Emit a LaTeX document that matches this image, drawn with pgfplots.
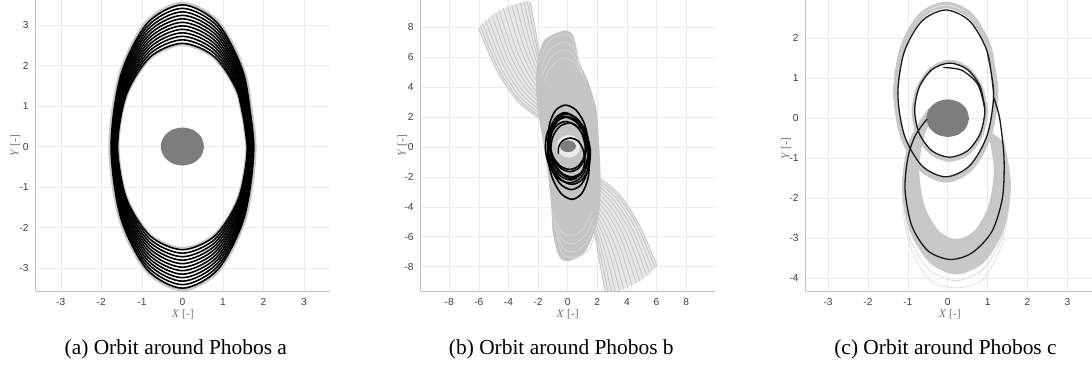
\documentclass[border=0pt]{standalone}
\usepackage{fontspec}
\setmainfont{Liberation Serif}
\newfontfamily\sansfam{Liberation Sans}
\usepackage{pgfplots}
\pgfplotsset{compat=1.18}
\definecolor{phob}{RGB}{125,125,125}
\definecolor{grayorb}{RGB}{200,200,200}
\definecolor{fanc}{RGB}{198,198,198}
\definecolor{fanfill}{RGB}{232,232,232}
\definecolor{blobc}{RGB}{196,196,196}
\definecolor{capc}{RGB}{214,214,214}
\newcommand\tickfont{\sansfam\fontsize{5.1}{6}\selectfont}
\newcommand\labfont{\fontsize{5.8}{7}\selectfont}
\newcommand\capfont{\fontsize{10.7}{13}\selectfont}
\pgfplotsset{myax/.style={
  scale only axis, height=145.5pt,
  axis x line*=bottom, axis y line*=left,
  axis line style={draw=black!25, line width=0.4pt},
  grid=major, grid style={draw=black!8, line width=0.3pt},
  major tick length=0pt,
  tick label style={font=\tickfont, text=black!75},
  xticklabel style={yshift=-0.2pt},
  xlabel={\textit{X} [-]}, ylabel={\textit{Y} [-]},
  label style={font=\labfont, text=black!55},
},
orb/.style={black, line width=0.8pt, smooth, no markers},
gorb/.style={grayorb, line width=1.2pt, smooth, no markers},
fan/.style={fanc, line width=0.45pt, smooth, no markers},
cap/.style={capc, line width=0.4pt, smooth, no markers},
}
\begin{document}
\begin{tikzpicture}
\useasboundingbox (0,0) rectangle (546pt,187pt);
\clip (0,0) rectangle (546pt,187pt);
%%%%%%%%%%%%%%%%%%%% (a)
\begin{axis}[myax, at={(17.85pt,41.5pt)}, anchor=south west, width=147.15pt,
  xmin=-3.62, xmax=3.64, ymin=-3.57, ymax=3.62,
  xtick={-3,-2,-1,0,1,2,3}, xticklabels={-3,-2,-1,0,1,2,3},
  ytick={-3,-2,-1,0,1,2,3}, yticklabels={-3,-2,-1,0,1,2,3},
  xlabel style={at={(axis description cs:0.5,-0.0814)}, anchor=center},
  ylabel style={at={(axis description cs:-0.0703,0.5)}, anchor=center}]
\addplot[gorb, line width=2pt] coordinates {(1.78,0)(1.541,1.765)(0.89,3.057)(0,3.53)(-0.89,3.057)(-1.541,1.765)(-1.78,0)(-1.541,-1.765)(-0.89,-3.057)(0,-3.53)(0.89,-3.057)(1.541,-1.765)(1.78,0)(1.541,1.765)};
\addplot[gorb, line width=1.5pt] coordinates {(1.59,0)(1.377,1.26)(0.795,2.182)(0,2.52)(-0.795,2.182)(-1.377,1.26)(-1.59,0)(-1.377,-1.26)(-0.795,-2.182)(0,-2.52)(0.795,-2.182)(1.377,-1.26)(1.59,0)(1.377,1.26)};
\addplot[orb] coordinates {(1.6,0)(1.386,1.275)(0.8,2.208)(0,2.55)(-0.8,2.208)(-1.386,1.275)(-1.6,0)(-1.386,-1.275)(-0.8,-2.208)(0,-2.55)(0.8,-2.208)(1.386,-1.275)(1.6,0)(1.386,1.275)};
\addplot[orb] coordinates {(1.615,0)(1.399,1.318)(0.808,2.283)(0,2.636)(-0.808,2.283)(-1.399,1.318)(-1.615,0)(-1.399,-1.318)(-0.808,-2.283)(0,-2.636)(0.808,-2.283)(1.399,-1.318)(1.615,0)(1.399,1.318)};
\addplot[orb] coordinates {(1.629,0)(1.411,1.362)(0.815,2.358)(0,2.723)(-0.815,2.358)(-1.411,1.362)(-1.629,0)(-1.411,-1.362)(-0.815,-2.358)(0,-2.723)(0.815,-2.358)(1.411,-1.362)(1.629,0)(1.411,1.362)};
\addplot[orb] coordinates {(1.644,0)(1.424,1.405)(0.822,2.433)(0,2.809)(-0.822,2.433)(-1.424,1.405)(-1.644,0)(-1.424,-1.405)(-0.822,-2.433)(0,-2.809)(0.822,-2.433)(1.424,-1.405)(1.644,0)(1.424,1.405)};
\addplot[orb] coordinates {(1.658,0)(1.436,1.448)(0.829,2.507)(0,2.895)(-0.829,2.507)(-1.436,1.448)(-1.658,0)(-1.436,-1.448)(-0.829,-2.507)(0,-2.895)(0.829,-2.507)(1.436,-1.448)(1.658,0)(1.436,1.448)};
\addplot[orb] coordinates {(1.673,0)(1.449,1.491)(0.837,2.582)(0,2.982)(-0.837,2.582)(-1.449,1.491)(-1.673,0)(-1.449,-1.491)(-0.837,-2.582)(0,-2.982)(0.837,-2.582)(1.449,-1.491)(1.673,0)(1.449,1.491)};
\addplot[orb] coordinates {(1.687,0)(1.461,1.534)(0.844,2.657)(0,3.068)(-0.844,2.657)(-1.461,1.534)(-1.687,0)(-1.461,-1.534)(-0.844,-2.657)(0,-3.068)(0.844,-2.657)(1.461,-1.534)(1.687,0)(1.461,1.534)};
\addplot[orb] coordinates {(1.702,0)(1.474,1.578)(0.851,2.732)(0,3.155)(-0.851,2.732)(-1.474,1.578)(-1.702,0)(-1.474,-1.578)(-0.851,-2.732)(0,-3.155)(0.851,-2.732)(1.474,-1.578)(1.702,0)(1.474,1.578)};
\addplot[orb] coordinates {(1.716,0)(1.486,1.621)(0.858,2.807)(0,3.241)(-0.858,2.807)(-1.486,1.621)(-1.716,0)(-1.486,-1.621)(-0.858,-2.807)(0,-3.241)(0.858,-2.807)(1.486,-1.621)(1.716,0)(1.486,1.621)};
\addplot[orb] coordinates {(1.731,0)(1.499,1.664)(0.866,2.881)(0,3.327)(-0.866,2.881)(-1.499,1.664)(-1.731,0)(-1.499,-1.664)(-0.866,-2.881)(0,-3.327)(0.866,-2.881)(1.499,-1.664)(1.731,0)(1.499,1.664)};
\addplot[orb] coordinates {(1.745,0)(1.511,1.707)(0.873,2.957)(0,3.414)(-0.873,2.957)(-1.511,1.707)(-1.745,0)(-1.511,-1.707)(-0.873,-2.957)(0,-3.414)(0.873,-2.957)(1.511,-1.707)(1.745,0)(1.511,1.707)};
\addplot[orb] coordinates {(1.76,0)(1.524,1.75)(0.88,3.031)(0,3.5)(-0.88,3.031)(-1.524,1.75)(-1.76,0)(-1.524,-1.75)(-0.88,-3.031)(0,-3.5)(0.88,-3.031)(1.524,-1.75)(1.76,0)(1.524,1.75)};
\addplot[fill=phob, draw=none, smooth] coordinates {(0.535,0)(0.463,0.235)(0.268,0.407)(0,0.47)(-0.268,0.407)(-0.463,0.235)(-0.535,0)(-0.463,-0.235)(-0.268,-0.407)(0,-0.47)(0.268,-0.407)(0.463,-0.235)(0.535,0)};
\end{axis}
\node[font=\capfont, anchor=center] at (87.9pt,12.3pt) {(a) Orbit around Phobos a};
%%%%%%%%%%%%%%%%%%%% (b)
\begin{axis}[myax, at={(210.35pt,41.5pt)}, anchor=south west, width=147pt,
  xmin=-9.93, xmax=9.93, ymin=-9.63, ymax=9.83,
  xtick={-8,-6,-4,-2,0,2,4,6,8}, xticklabels={-8,-6,-4,-2,0,2,4,6,8},
  ytick={-8,-6,-4,-2,0,2,4,6,8}, yticklabels={-8,-6,-4,-2,0,2,4,6,8},
  xlabel style={at={(axis description cs:0.5,-0.0814)}, anchor=center},
  ylabel style={at={(axis description cs:-0.0626,0.5)}, anchor=center}]
% fan backgrounds
\addplot[fill=fanfill, draw=none, smooth] coordinates {(-6.04,7.95)(-4.8,5.15)(-3.45,3.14)(-2.09,2.03)(-1.3,1.5)(-1.3,4.5)(-1.75,5.6)(-2.0,6.8)(-2.25,8.2)(-2.55,9.71)(-3.211,9.653)(-4.069,9.40)(-4.869,8.966)(-5.545,8.438)(-6.04,7.95)};
\addplot[fill=fanfill, draw=none, smooth] coordinates {(6.04,-7.95)(4.8,-5.15)(3.45,-3.14)(2.09,-2.03)(1.3,-1.5)(1.3,-4.5)(1.75,-5.6)(2.0,-6.8)(2.25,-8.2)(2.55,-9.71)(3.211,-9.653)(4.069,-9.40)(4.869,-8.966)(5.545,-8.438)(6.04,-7.95)};
% upper-left fan
\addplot[fan] coordinates {(-6.04,7.95)(-4.8,5.15)(-3.45,3.14)(-2.09,2.03)(-1.3,1.5)};
\addplot[fan] coordinates {(-5.909,8.088)(-4.698,5.272)(-3.392,3.286)(-2.076,2.173)(-1.3,1.62)};
\addplot[fan] coordinates {(-5.744,8.253)(-4.571,5.425)(-3.320,3.469)(-2.059,2.351)(-1.3,1.77)};
\addplot[fan] coordinates {(-5.545,8.438)(-4.418,5.608)(-3.233,3.689)(-2.039,2.566)(-1.3,1.95)};
\addplot[fan] coordinates {(-5.344,8.612)(-4.265,5.791)(-3.146,3.909)(-2.019,2.78)(-1.3,2.13)};
\addplot[fan] coordinates {(-5.107,8.798)(-4.086,6.004)(-3.044,4.165)(-1.995,3.03)(-1.3,2.34)};
\addplot[fan] coordinates {(-4.869,8.966)(-3.908,6.218)(-2.943,4.421)(-1.971,3.28)(-1.3,2.55)};
\addplot[fan] coordinates {(-4.628,9.118)(-3.729,6.431)(-2.841,4.677)(-1.947,3.529)(-1.3,2.76)};
\addplot[fan] coordinates {(-4.35,9.27)(-3.525,6.675)(-2.725,4.97)(-1.92,3.815)(-1.3,3.0)};
\addplot[fan] coordinates {(-4.069,9.40)(-3.321,6.919)(-2.609,5.263)(-1.893,4.101)(-1.3,3.24)};
\addplot[fan] coordinates {(-3.786,9.507)(-3.117,7.163)(-2.493,5.556)(-1.866,4.386)(-1.3,3.48)};
\addplot[fan] coordinates {(-3.50,9.591)(-2.913,7.407)(-2.377,5.848)(-1.838,4.672)(-1.3,3.72)};
\addplot[fan] coordinates {(-3.211,9.653)(-2.709,7.651)(-2.261,6.141)(-1.811,4.957)(-1.3,3.96)};
\addplot[fan] coordinates {(-2.956,9.689)(-2.531,7.865)(-2.160,6.397)(-1.787,5.207)(-1.3,4.17)};
\addplot[fan] coordinates {(-2.735,9.706)(-2.378,8.048)(-2.073,6.617)(-1.767,5.422)(-1.3,4.35)};
\addplot[fan] coordinates {(-2.55,9.71)(-2.25,8.2)(-2.0,6.8)(-1.75,5.6)(-1.3,4.5)};
% lower-right fan
\addplot[fan] coordinates {(6.04,-7.95)(4.8,-5.15)(3.45,-3.14)(2.09,-2.03)(1.3,-1.5)};
\addplot[fan] coordinates {(5.909,-8.088)(4.698,-5.272)(3.392,-3.286)(2.076,-2.173)(1.3,-1.62)};
\addplot[fan] coordinates {(5.744,-8.253)(4.571,-5.425)(3.320,-3.469)(2.059,-2.351)(1.3,-1.77)};
\addplot[fan] coordinates {(5.545,-8.438)(4.418,-5.608)(3.233,-3.689)(2.039,-2.566)(1.3,-1.95)};
\addplot[fan] coordinates {(5.344,-8.612)(4.265,-5.791)(3.146,-3.909)(2.019,-2.78)(1.3,-2.13)};
\addplot[fan] coordinates {(5.107,-8.798)(4.086,-6.004)(3.044,-4.165)(1.995,-3.03)(1.3,-2.34)};
\addplot[fan] coordinates {(4.869,-8.966)(3.908,-6.218)(2.943,-4.421)(1.971,-3.28)(1.3,-2.55)};
\addplot[fan] coordinates {(4.628,-9.118)(3.729,-6.431)(2.841,-4.677)(1.947,-3.529)(1.3,-2.76)};
\addplot[fan] coordinates {(4.35,-9.27)(3.525,-6.675)(2.725,-4.97)(1.92,-3.815)(1.3,-3.0)};
\addplot[fan] coordinates {(4.069,-9.40)(3.321,-6.919)(2.609,-5.263)(1.893,-4.101)(1.3,-3.24)};
\addplot[fan] coordinates {(3.786,-9.507)(3.117,-7.163)(2.493,-5.556)(1.866,-4.386)(1.3,-3.48)};
\addplot[fan] coordinates {(3.50,-9.591)(2.913,-7.407)(2.377,-5.848)(1.838,-4.672)(1.3,-3.72)};
\addplot[fan] coordinates {(3.211,-9.653)(2.709,-7.651)(2.261,-6.141)(1.811,-4.957)(1.3,-3.96)};
\addplot[fan] coordinates {(2.956,-9.689)(2.531,-7.865)(2.160,-6.397)(1.787,-5.207)(1.3,-4.17)};
\addplot[fan] coordinates {(2.735,-9.706)(2.378,-8.048)(2.073,-6.617)(1.767,-5.422)(1.3,-4.35)};
\addplot[fan] coordinates {(2.55,-9.71)(2.25,-8.2)(2.0,-6.8)(1.75,-5.6)(1.3,-4.5)};
% central blob
\addplot[fill=blobc, draw=blobc, line width=0.5pt, smooth] coordinates {(-0.18,7.77)(0.35,7.45)(0.72,5.8)(1.39,4.26)(1.91,2.47)(2.07,0.47)(2.18,-1.74)(2.14,-4.0)(1.73,-5.75)(1.05,-7.1)(0.04,-7.6)(-0.55,-7.3)(-0.97,-5.75)(-1.08,-4.0)(-1.31,-1.74)(-1.65,0.47)(-1.99,2.47)(-2.1,4.26)(-1.99,5.8)(-1.53,7.15)(-0.18,7.77)(0.35,7.45)};
% lighter arcs in the caps
\addplot[cap] coordinates {(-1.9,5.6)(-1.4,6.9)(-0.4,7.55)(0.4,7.2)(0.7,6.0)};
\addplot[cap] coordinates {(-1.8,5.2)(-1.3,6.4)(-0.4,7.0)(0.35,6.7)(0.85,5.4)};
\addplot[cap] coordinates {(-1.7,4.8)(-1.2,5.9)(-0.4,6.45)(0.35,6.2)(1.0,4.9)};
\addplot[cap] coordinates {(-1.6,4.4)(-1.1,5.4)(-0.4,5.9)(0.4,5.7)(1.15,4.5)};
\addplot[cap] coordinates {(1.9,-5.6)(1.4,-6.9)(0.4,-7.4)(-0.4,-7.1)(-0.7,-6.0)};
\addplot[cap] coordinates {(1.8,-5.2)(1.3,-6.4)(0.4,-7.0)(-0.35,-6.7)(-0.85,-5.4)};
\addplot[cap] coordinates {(1.7,-4.8)(1.2,-5.9)(0.4,-6.45)(-0.35,-6.2)(-0.95,-4.9)};
\addplot[cap] coordinates {(1.6,-4.4)(1.1,-5.4)(0.4,-5.9)(-0.4,-5.7)(-1.0,-4.5)};
% halo around Phobos
\addplot[fill=black!8, draw=none, smooth] coordinates {(0.85,0.05)(0.743,0.425)(0.45,0.7)(0.05,0.8)(-0.35,0.7)(-0.643,0.425)(-0.75,0.05)(-0.643,-0.325)(-0.35,-0.6)(0.05,-0.7)(0.45,-0.6)(0.743,-0.325)(0.85,0.05)};
% black orbits
\addplot[orb] coordinates {(1.40,0.35)(1.121,1.575)(0.556,2.472)(-0.146,2.80)(-0.794,2.472)(-1.217,1.575)(-1.30,0.35)(-1.021,-0.875)(-0.456,-1.772)(0.246,-2.10)(0.894,-1.772)(1.317,-0.875)(1.40,0.35)(1.121,1.575)};
\addplot[orb] coordinates {(1.45,-0.6)(1.146,0.85)(0.55,1.911)(-0.182,2.30)(-0.85,1.911)(-1.278,0.85)(-1.35,-0.6)(-1.046,-2.05)(-0.45,-3.111)(0.282,-3.50)(0.95,-3.111)(1.378,-2.05)(1.45,-0.6)(1.146,0.85)};
\addplot[orb] coordinates {(1.40,0)(1.146,1.0)(0.612,1.732)(-0.06,2.0)(-0.688,1.732)(-1.106,1.0)(-1.20,0)(-0.946,-1.0)(-0.412,-1.732)(0.26,-2.0)(0.888,-1.732)(1.306,-1.0)(1.40,0)(1.146,1.0)};
\addplot[orb] coordinates {(1.40,-0.2)(1.118,0.9)(0.523,1.705)(-0.226,2.0)(-0.927,1.705)(-1.394,0.9)(-1.50,-0.2)(-1.218,-1.3)(-0.623,-2.105)(0.126,-2.4)(0.827,-2.105)(1.294,-1.3)(1.40,-0.2)(1.118,0.9)};
\addplot[orb] coordinates {(1.25,0.2)(1.009,1.125)(0.497,1.802)(-0.148,2.05)(-0.753,1.802)(-1.157,1.125)(-1.25,0.2)(-1.009,-0.725)(-0.497,-1.402)(0.148,-1.65)(0.753,-1.402)(1.157,-0.725)(1.25,0.2)(1.009,1.125)};
\addplot[orb] coordinates {(1.43,-0.3)(1.143,0.975)(0.564,1.908)(-0.154,2.25)(-0.816,1.908)(-1.247,0.975)(-1.33,-0.3)(-1.043,-1.575)(-0.464,-2.508)(0.254,-2.85)(0.916,-2.508)(1.347,-1.575)(1.43,-0.3)(1.143,0.975)};
\addplot[orb] coordinates {(1.18,0.1)(0.958,0.9)(0.48,1.486)(-0.128,1.7)(-0.70,1.486)(-1.086,0.9)(-1.18,0.1)(-0.958,-0.7)(-0.48,-1.286)(0.128,-1.5)(0.70,-1.286)(1.086,-0.7)(1.18,0.1)(0.958,0.9)};
\addplot[orb] coordinates {(1.52,-0.15)(1.236,1.025)(0.648,1.885)(-0.088,2.2)(-0.772,1.885)(-1.224,1.025)(-1.32,-0.15)(-1.036,-1.325)(-0.448,-2.185)(0.288,-2.5)(0.972,-2.185)(1.424,-1.325)(1.52,-0.15)(1.236,1.025)};
\addplot[orb] coordinates {(-0.63,-0.45)(-0.6,0.05)(-0.3,0.45)(0.2,0.6)(0.7,0.4)(1.05,-0.2)(1.15,-1.0)(0.9,-1.8)(0.3,-2.2)(-0.4,-2.0)(-0.95,-1.3)(-1.15,-0.3)(-1.0,0.7)(-0.5,1.4)(0.2,1.6)(0.85,1.2)};
\addplot[fill=phob, draw=none, smooth] coordinates {(0.555,0.05)(0.483,0.25)(0.288,0.39)(0.02,0.44)(-0.248,0.39)(-0.443,0.25)(-0.515,0.05)(-0.443,-0.15)(-0.248,-0.29)(0.02,-0.34)(0.288,-0.29)(0.483,-0.15)(0.555,0.05)};
\end{axis}
\node[font=\capfont, anchor=center] at (280.65pt,12.3pt) {(b) Orbit around Phobos b};
%%%%%%%%%%%%%%%%%%%% (c)
\begin{axis}[myax, at={(402.85pt,41.5pt)}, anchor=south west, width=144.05pt,
  xmin=-3.56, xmax=3.66, ymin=-4.33, ymax=2.96,
  xtick={-3,-2,-1,0,1,2,3}, xticklabels={-3,-2,-1,0,1,2,3},
  ytick={-4,-3,-2,-1,0,1,2}, yticklabels={-4,-3,-2,-1,0,1,2},
  xlabel style={at={(axis description cs:0.5,-0.0814)}, anchor=center},
  ylabel style={at={(axis description cs:-0.0684,0.49)}, anchor=center}]
% faint outer lines
\addplot[black!12, line width=0.4pt, smooth] coordinates {(1.36,-0.7)(1.54,-1.95)(1.36,-3.15)(0.87,-4.05)(0.2,-4.25)(-0.47,-4.05)(-0.96,-3.15)(-1.14,-1.95)(-0.96,-0.7)(-0.47,0.17)};
\addplot[black!15, line width=0.4pt, smooth] coordinates {(1.343,-0.675)(1.52,-1.85)(1.343,-3.025)(0.86,-3.8)(0.2,-4.07)(-0.46,-3.8)(-0.943,-3.025)(-1.12,-1.85)(-0.943,-0.675)(-0.46,0.185)};
% lower loop family (grey)
\addplot[gorb, line width=2.6pt] coordinates {(1.346,-0.587)(1.52,-1.675)(1.346,-2.763)(0.87,-3.559)(0.22,-3.85)(-0.43,-3.559)(-0.906,-2.763)(-1.08,-1.675)(-0.906,-0.587)(-0.43,0.209)};
\addplot[gorb, line width=2.6pt] coordinates {(1.309,-0.56)(1.477,-1.621)(1.309,-2.682)(0.849,-3.458)(0.22,-3.742)(-0.409,-3.458)(-0.869,-2.682)(-1.037,-1.621)(-0.869,-0.56)(-0.409,0.216)};
\addplot[gorb, line width=2.6pt] coordinates {(1.271,-0.534)(1.434,-1.568)(1.271,-2.602)(0.827,-3.359)(0.22,-3.636)(-0.387,-3.359)(-0.831,-2.602)(-0.994,-1.568)(-0.831,-0.534)(-0.387,0.223)};
\addplot[gorb, line width=2.6pt] coordinates {(1.234,-0.507)(1.391,-1.514)(1.234,-2.521)(0.806,-3.258)(0.22,-3.528)(-0.366,-3.258)(-0.794,-2.521)(-0.951,-1.514)(-0.794,-0.507)(-0.366,0.23)};
\addplot[gorb, line width=2.6pt] coordinates {(1.198,-0.48)(1.349,-1.461)(1.198,-2.442)(0.785,-3.159)(0.22,-3.422)(-0.345,-3.159)(-0.758,-2.442)(-0.909,-1.461)(-0.758,-0.48)(-0.345,0.237)};
\addplot[gorb, line width=2.6pt] coordinates {(1.16,-0.453)(1.306,-1.407)(1.16,-2.361)(0.763,-3.058)(0.22,-3.314)(-0.323,-3.058)(-0.72,-2.361)(-0.866,-1.407)(-0.72,-0.453)(-0.323,0.244)};
\addplot[gorb, line width=2.6pt] coordinates {(1.123,-0.427)(1.263,-1.354)(1.123,-2.281)(0.742,-2.96)(0.22,-3.208)(-0.302,-2.96)(-0.683,-2.281)(-0.823,-1.354)(-0.683,-0.427)(-0.302,0.252)};
\addplot[gorb, line width=2.6pt] coordinates {(1.086,-0.4)(1.22,-1.3)(1.086,-2.2)(0.72,-2.859)(0.22,-3.1)(-0.28,-2.859)(-0.646,-2.2)(-0.78,-1.3)(-0.646,-0.4)(-0.28,0.259)};
% grey halos of the upper loops
\addplot[gorb, line width=1.5pt] coordinates {(1.23,0.66)(1.058,1.78)(0.59,2.6)(-0.05,2.88)(-0.69,2.6)(-1.158,1.78)(-1.33,0.66)(-1.158,-0.46)(-0.69,-1.28)(-0.05,-1.58)(0.59,-1.28)(1.058,-0.46)(1.23,0.66)(1.058,1.78)};
\addplot[gorb, line width=1.5pt] coordinates {(1.19,0.64)(1.024,1.72)(0.57,2.511)(-0.05,2.79)(-0.67,2.511)(-1.124,1.72)(-1.29,0.64)(-1.124,-0.44)(-0.67,-1.231)(-0.05,-1.52)(0.57,-1.231)(1.024,-0.44)(1.19,0.64)(1.024,1.72)};
\addplot[gorb, line width=1.8pt] coordinates {(0.96,0.17)(0.838,0.77)(0.505,1.24)(0.05,1.42)(-0.405,1.24)(-0.738,0.77)(-0.86,0.17)(-0.738,-0.44)(-0.405,-0.88)(0.05,-1.05)(0.505,-0.88)(0.838,-0.44)(0.96,0.17)(0.838,0.77)};
% Phobos
\addplot[fill=phob, draw=none, smooth] coordinates {(0.535,0)(0.463,0.235)(0.268,0.407)(0,0.47)(-0.268,0.407)(-0.463,0.235)(-0.535,0)(-0.463,-0.235)(-0.268,-0.407)(0,-0.47)(0.268,-0.407)(0.463,-0.235)(0.535,0)};
% black trajectory
\addplot[orb, black!90, line width=0.65pt] coordinates {(-0.11,1.27)(0.35,1.2)(0.75,0.85)(0.92,0.3)};
\addplot[orb, black!90, line width=0.65pt] coordinates {(0.93,0.2)(0.812,0.79)(0.49,1.222)(0.05,1.38)(-0.39,1.222)(-0.712,0.79)(-0.83,0.2)(-0.712,-0.39)(-0.39,-0.822)(0.05,-0.98)(0.49,-0.822)(0.812,-0.39)(0.93,0.2)(0.812,0.79)};
\addplot[orb, black!90, line width=0.65pt] coordinates {(1.15,0.62)(0.989,1.665)(0.55,2.43)(-0.05,2.71)(-0.65,2.43)(-1.089,1.665)(-1.25,0.62)(-1.089,-0.425)(-0.65,-1.19)(-0.05,-1.47)(0.55,-1.19)(0.989,-0.425)(1.15,0.62)(0.989,1.665)};
\addplot[orb, black!90, line width=0.65pt] coordinates {(1.14,0.55)(1.3,0.0)(1.41,-1.0)(1.37,-2.0)(1.1,-2.85)(0.6,-3.38)(0.05,-3.54)(-0.5,-3.32)(-0.9,-2.7)(-1.07,-1.8)(-1.0,-1.0)(-0.82,-0.45)(-0.52,-0.02)};
\end{axis}
\node[font=\capfont, anchor=center] at (472.75pt,12.3pt) {(c) Orbit around Phobos c};
\end{tikzpicture}
\end{document}
